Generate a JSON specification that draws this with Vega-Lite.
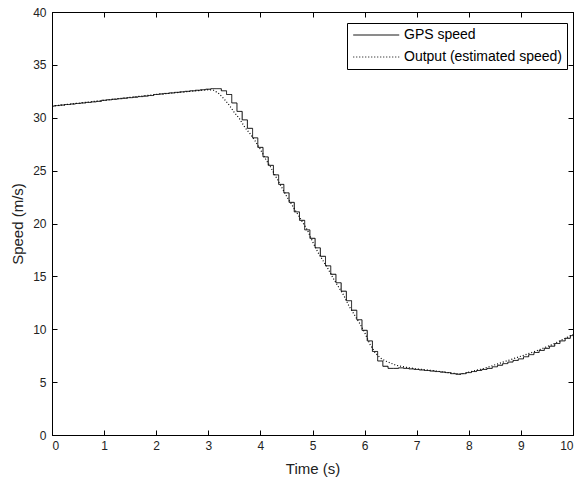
{
  "$schema": "https://vega.github.io/schema/vega-lite/v6.json",
  "width": 521,
  "height": 423,
  "autosize": {"type": "none"},
  "padding": {"left": 52, "top": 12, "right": 8, "bottom": 47},
  "background": "white",
  "config": {
    "view": {"stroke": "black", "strokeWidth": 1},
    "font": "Liberation Sans",
    "axis": {"grid": false, "domainColor": "black", "tickColor": "black", "labelColor": "#222", "titleColor": "#222", "labelFont": "Liberation Sans", "titleFont": "Liberation Sans", "labelFontSize": 12, "titleFontSize": 15, "titleFontWeight": "normal", "tickSize": -5}
  },
  "datasets": {
    "gps": [
      {"t":0.0,"v":31.1},{"t":0.1,"v":31.15},{"t":0.2,"v":31.2},{"t":0.3,"v":31.25},{"t":0.4,"v":31.3},{"t":0.5,"v":31.35},{"t":0.6,"v":31.4},{"t":0.7,"v":31.45},{"t":0.8,"v":31.5},{"t":0.9,"v":31.55},
      {"t":1.0,"v":31.65},{"t":1.1,"v":31.7},{"t":1.2,"v":31.75},{"t":1.3,"v":31.8},{"t":1.4,"v":31.85},{"t":1.5,"v":31.9},{"t":1.6,"v":31.95},{"t":1.7,"v":32.0},{"t":1.8,"v":32.05},{"t":1.9,"v":32.1},
      {"t":2.0,"v":32.2},{"t":2.1,"v":32.25},{"t":2.2,"v":32.3},{"t":2.3,"v":32.35},{"t":2.4,"v":32.4},{"t":2.5,"v":32.45},{"t":2.6,"v":32.5},{"t":2.7,"v":32.55},{"t":2.8,"v":32.6},{"t":2.9,"v":32.65},
      {"t":3.0,"v":32.7},{"t":3.1,"v":32.75},{"t":3.2,"v":32.75},{"t":3.3,"v":32.55},{"t":3.4,"v":32.2},{"t":3.5,"v":31.4},{"t":3.6,"v":30.6},{"t":3.7,"v":29.8},{"t":3.8,"v":29.0},{"t":3.9,"v":28.1},
      {"t":4.0,"v":27.2},{"t":4.1,"v":26.3},{"t":4.2,"v":25.5},{"t":4.3,"v":24.6},{"t":4.4,"v":23.7},{"t":4.5,"v":22.9},{"t":4.6,"v":22.0},{"t":4.7,"v":21.1},{"t":4.8,"v":20.3},{"t":4.9,"v":19.4},
      {"t":5.0,"v":18.6},{"t":5.1,"v":17.7},{"t":5.2,"v":16.9},{"t":5.3,"v":16.0},{"t":5.4,"v":15.2},{"t":5.5,"v":14.4},{"t":5.6,"v":13.6},{"t":5.7,"v":12.7},{"t":5.8,"v":11.8},{"t":5.9,"v":10.9},
      {"t":6.0,"v":9.9},{"t":6.1,"v":8.9},{"t":6.2,"v":7.9},{"t":6.3,"v":7.0},{"t":6.4,"v":6.5},{"t":6.5,"v":6.3},{"t":6.6,"v":6.3},{"t":6.7,"v":6.35},{"t":6.8,"v":6.3},{"t":6.9,"v":6.25},
      {"t":7.0,"v":6.2},{"t":7.1,"v":6.15},{"t":7.2,"v":6.1},{"t":7.3,"v":6.05},{"t":7.4,"v":6.0},{"t":7.5,"v":5.95},{"t":7.6,"v":5.9},{"t":7.7,"v":5.8},{"t":7.8,"v":5.75},{"t":7.9,"v":5.8},
      {"t":8.0,"v":5.9},{"t":8.1,"v":6.0},{"t":8.2,"v":6.1},{"t":8.3,"v":6.2},{"t":8.4,"v":6.3},{"t":8.5,"v":6.45},{"t":8.6,"v":6.6},{"t":8.7,"v":6.75},{"t":8.8,"v":6.9},{"t":8.9,"v":7.05},
      {"t":9.0,"v":7.2},{"t":9.1,"v":7.4},{"t":9.2,"v":7.6},{"t":9.3,"v":7.8},{"t":9.4,"v":8.0},{"t":9.5,"v":8.2},{"t":9.6,"v":8.4},{"t":9.7,"v":8.65},{"t":9.8,"v":8.9},{"t":9.9,"v":9.15},{"t":10.0,"v":9.4}
    ],
    "est": [
      {"t":0.0,"v":31.1},{"t":1.0,"v":31.65},{"t":2.0,"v":32.2},{"t":3.0,"v":32.65},{"t":3.1,"v":32.6},{"t":3.2,"v":32.3},{"t":3.3,"v":31.8},{"t":3.4,"v":31.2},{"t":3.5,"v":30.5},{"t":3.6,"v":29.9},
      {"t":3.7,"v":29.1},{"t":3.8,"v":28.5},{"t":3.9,"v":27.8},{"t":4.0,"v":27.0},{"t":4.1,"v":26.1},{"t":4.2,"v":25.3},{"t":4.3,"v":24.4},{"t":4.4,"v":23.5},{"t":4.5,"v":22.6},{"t":4.6,"v":21.8},
      {"t":4.7,"v":21.0},{"t":4.8,"v":20.2},{"t":4.9,"v":19.4},{"t":5.0,"v":18.3},{"t":5.1,"v":17.3},{"t":5.2,"v":16.5},{"t":5.3,"v":15.7},{"t":5.4,"v":14.8},{"t":5.5,"v":14.0},{"t":5.6,"v":13.2},
      {"t":5.7,"v":12.2},{"t":5.8,"v":11.4},{"t":5.9,"v":10.6},{"t":6.0,"v":9.7},{"t":6.1,"v":8.6},{"t":6.2,"v":7.8},{"t":6.3,"v":7.3},{"t":6.4,"v":7.0},{"t":6.5,"v":6.8},{"t":6.6,"v":6.6},
      {"t":6.8,"v":6.4},{"t":7.0,"v":6.25},{"t":7.3,"v":6.1},{"t":7.6,"v":5.9},{"t":7.85,"v":5.75},{"t":8.0,"v":5.95},{"t":8.3,"v":6.3},{"t":8.6,"v":6.8},{"t":9.0,"v":7.45},{"t":9.3,"v":7.95},
      {"t":9.6,"v":8.55},{"t":10.0,"v":9.5}
    ]
  },
  "layer": [
    {
      "data": {"name": "gps"},
      "transform": [{"calculate": "'GPS speed'", "as": "series"}],
      "mark": {"type": "line", "interpolate": "step", "color": "black", "strokeWidth": 1},
      "encoding": {
        "x": {"field": "t", "type": "quantitative", "scale": {"domain": [0, 10], "nice": false}, "axis": {"title": "Time (s)", "values": [0,1,2,3,4,5,6,7,8,9,10], "labelPadding": 10, "titlePadding": 10}},
        "y": {"field": "v", "type": "quantitative", "scale": {"domain": [0, 40], "nice": false}, "axis": {"title": "Speed (m/s)", "values": [0,5,10,15,20,25,30,35,40], "labelPadding": 11, "titlePadding": 7}},
        "strokeDash": {"field": "series", "type": "nominal", "scale": {"domain": ["GPS speed", "Output (estimated speed)"], "range": [[1, 0], [1, 2]]},
          "legend": {"title": null, "orient": "none", "legendX": 295, "legendY": 11, "symbolType": "M-1,0L7,0", "symbolSize": 132, "symbolStrokeColor": "black", "symbolStrokeWidth": 1, "labelFontSize": 14, "labelColor": "black", "labelFont": "Liberation Sans", "strokeColor": "black", "fillColor": "white", "padding": 5, "rowPadding": 8, "labelOffset": 38}}
      }
    },
    {
      "data": {"name": "est"},
      "transform": [{"calculate": "'Output (estimated speed)'", "as": "series"}],
      "mark": {"type": "line", "color": "black", "strokeWidth": 1.2},
      "encoding": {
        "x": {"field": "t", "type": "quantitative", "scale": {"domain": [0, 10], "nice": false}, "axis": {"orient": "top", "title": null, "labels": false, "values": [0,1,2,3,4,5,6,7,8,9,10]}},
        "y": {"field": "v", "type": "quantitative", "scale": {"domain": [0, 40], "nice": false}, "axis": {"orient": "right", "title": null, "labels": false, "values": [0,5,10,15,20,25,30,35,40]}},
        "strokeDash": {"field": "series", "type": "nominal"}
      }
    }
  ],
  "resolve": {"axis": {"x": "independent", "y": "independent"}}
}
